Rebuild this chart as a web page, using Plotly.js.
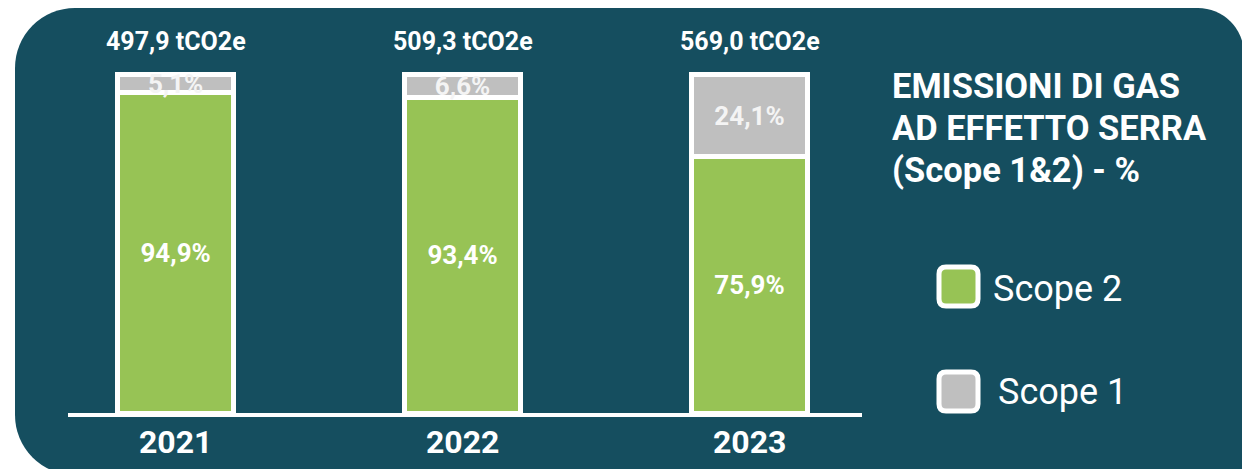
<!DOCTYPE html>
<html>
<head>
<meta charset="utf-8">
<script src="https://cdn.plot.ly/plotly-3.0.1.min.js"></script>
<style>
  html, body { margin:0; padding:0; background:#ffffff; width:1242px; height:469px; overflow:hidden; }
  #bg { position:absolute; left:15px; top:8px; width:1229px; height:467px; background:#154e5f;
        border-radius:60px 46px 0 60px; }
  #chart { position:absolute; left:0; top:0; width:1242px; height:469px; }
</style>
</head>
<body>
<div id="bg"></div>
<div id="chart"></div>
<script>
// ---- data ----
const years = ['2021', '2022', '2023'];
const scope2 = [94.9, 93.4, 75.9];
const scope1 = [5.1, 6.6, 24.1];
const totals = [497.9, 509.3, 569.0];
const seriesNames = ['Scope 2', 'Scope 1'];
const titleLines = ['EMISSIONI DI GAS', 'AD EFFETTO SERRA', '(Scope 1&amp;2) - %'];

// ---- style ----
const GREEN = '#97c355';
const GRAY = '#bfbfbf';
const WHITE = '#ffffff';
const FONT = 'Roboto, "Open Sans", sans-serif';

const W = 1242, H = 469;
const M = {l: 68, r: 380, t: 58, b: 56};
const XR = [-0.375, 2.392], YR = [0, 105];
const pw = W - M.l - M.r, ph = H - M.t - M.b;
const px2x = p => (p - M.l) / pw;
const px2y = p => (H - M.b - p) / ph;
const cat2paper = i => (i - XR[0]) / (XR[1] - XR[0]);
const val2paper = v => (v - YR[0]) / (YR[1] - YR[0]);

const fmtPct = v => v.toFixed(1).replace('.', ',') + '%';
const fmtTot = v => v.toFixed(1).replace('.', ',') + ' tCO2e';

const traces = [
  {
    type: 'bar', name: seriesNames[0], x: years, y: scope2,
    width: 0.404,
    marker: {color: GREEN, line: {color: WHITE, width: 5}},
    text: scope2.map(fmtPct), textposition: 'inside', insidetextanchor: 'middle',
    constraintext: 'none',
    textfont: {family: FONT, size: 26, color: WHITE, weight: 700},
    hoverinfo: 'none', showlegend: false
  },
  {
    type: 'bar', name: seriesNames[1], x: years, y: scope1,
    width: 0.404,
    marker: {color: GRAY, line: {color: WHITE, width: 5}},
    text: scope1.map(fmtPct), textposition: 'inside', insidetextanchor: 'middle',
    constraintext: 'none',
    textfont: {family: FONT, size: 26, color: '#f4f4f4', weight: 700},
    hoverinfo: 'none', showlegend: false
  }
];

const annotations = [];
years.forEach((yr, i) => {
  annotations.push({
    x: cat2paper(i), y: val2paper(scope2[i] + scope1[i]), xref: 'paper', yref: 'paper',
    text: fmtTot(totals[i]), showarrow: false,
    xanchor: 'center', yanchor: 'middle', yshift: 33,
    font: {family: FONT, size: 25, color: WHITE, weight: 700}
  });
  annotations.push({
    x: cat2paper(i), y: val2paper(0), xref: 'paper', yref: 'paper',
    text: yr, showarrow: false,
    xanchor: 'center', yanchor: 'middle', yshift: -29,
    font: {family: FONT, size: 32, color: WHITE, weight: 700}
  });
});
const titleY = [86, 128, 170];
titleLines.forEach((t, i) => {
  annotations.push({
    x: px2x(890), y: px2y(titleY[i]), xref: 'paper', yref: 'paper',
    xanchor: 'left', yanchor: 'middle', align: 'left',
    text: t, showarrow: false,
    font: {family: FONT, size: 34.5, color: WHITE, weight: 700}
  });
});
annotations.push({
  x: px2x(991), y: px2y(289), xref: 'paper', yref: 'paper',
  xanchor: 'left', yanchor: 'middle', text: seriesNames[0], showarrow: false,
  font: {family: FONT, size: 36, color: WHITE}
});
annotations.push({
  x: px2x(996), y: px2y(392), xref: 'paper', yref: 'paper',
  xanchor: 'left', yanchor: 'middle', text: seriesNames[1], showarrow: false,
  font: {family: FONT, size: 36, color: WHITE}
});

function roundRect(x0, y0, x1, y1, r) {
  const X = px2x, Y = px2y;
  return 'M' + X(x0 + r) + ',' + Y(y0) +
    ' L' + X(x1 - r) + ',' + Y(y0) + ' Q' + X(x1) + ',' + Y(y0) + ' ' + X(x1) + ',' + Y(y0 + r) +
    ' L' + X(x1) + ',' + Y(y1 - r) + ' Q' + X(x1) + ',' + Y(y1) + ' ' + X(x1 - r) + ',' + Y(y1) +
    ' L' + X(x0 + r) + ',' + Y(y1) + ' Q' + X(x0) + ',' + Y(y1) + ' ' + X(x0) + ',' + Y(y1 - r) +
    ' L' + X(x0) + ',' + Y(y0 + r) + ' Q' + X(x0) + ',' + Y(y0) + ' ' + X(x0 + r) + ',' + Y(y0) + ' Z';
}
const shapes = [
  {type: 'path', xref: 'paper', yref: 'paper', path: roundRect(939, 267, 978, 306, 7),
   fillcolor: GREEN, line: {color: WHITE, width: 5}},
  {type: 'path', xref: 'paper', yref: 'paper', path: roundRect(939, 372, 978, 411, 7),
   fillcolor: GRAY, line: {color: WHITE, width: 5}}
];

const layout = {
  width: W, height: H, autosize: false,
  margin: M,
  paper_bgcolor: 'rgba(0,0,0,0)', plot_bgcolor: 'rgba(0,0,0,0)',
  barmode: 'stack',
  font: {family: FONT, color: WHITE},
  showlegend: false,
  xaxis: {
    type: 'category', range: XR,
    showline: true, linecolor: WHITE, linewidth: 4,
    showgrid: false, zeroline: false, ticks: '', showticklabels: false,
    fixedrange: true
  },
  yaxis: {
    range: YR, visible: false, showgrid: false, zeroline: false, fixedrange: true
  },
  annotations: annotations,
  shapes: shapes
};

Plotly.newPlot('chart', traces, layout, {displayModeBar: false, staticPlot: true});
</script>
</body>
</html>
